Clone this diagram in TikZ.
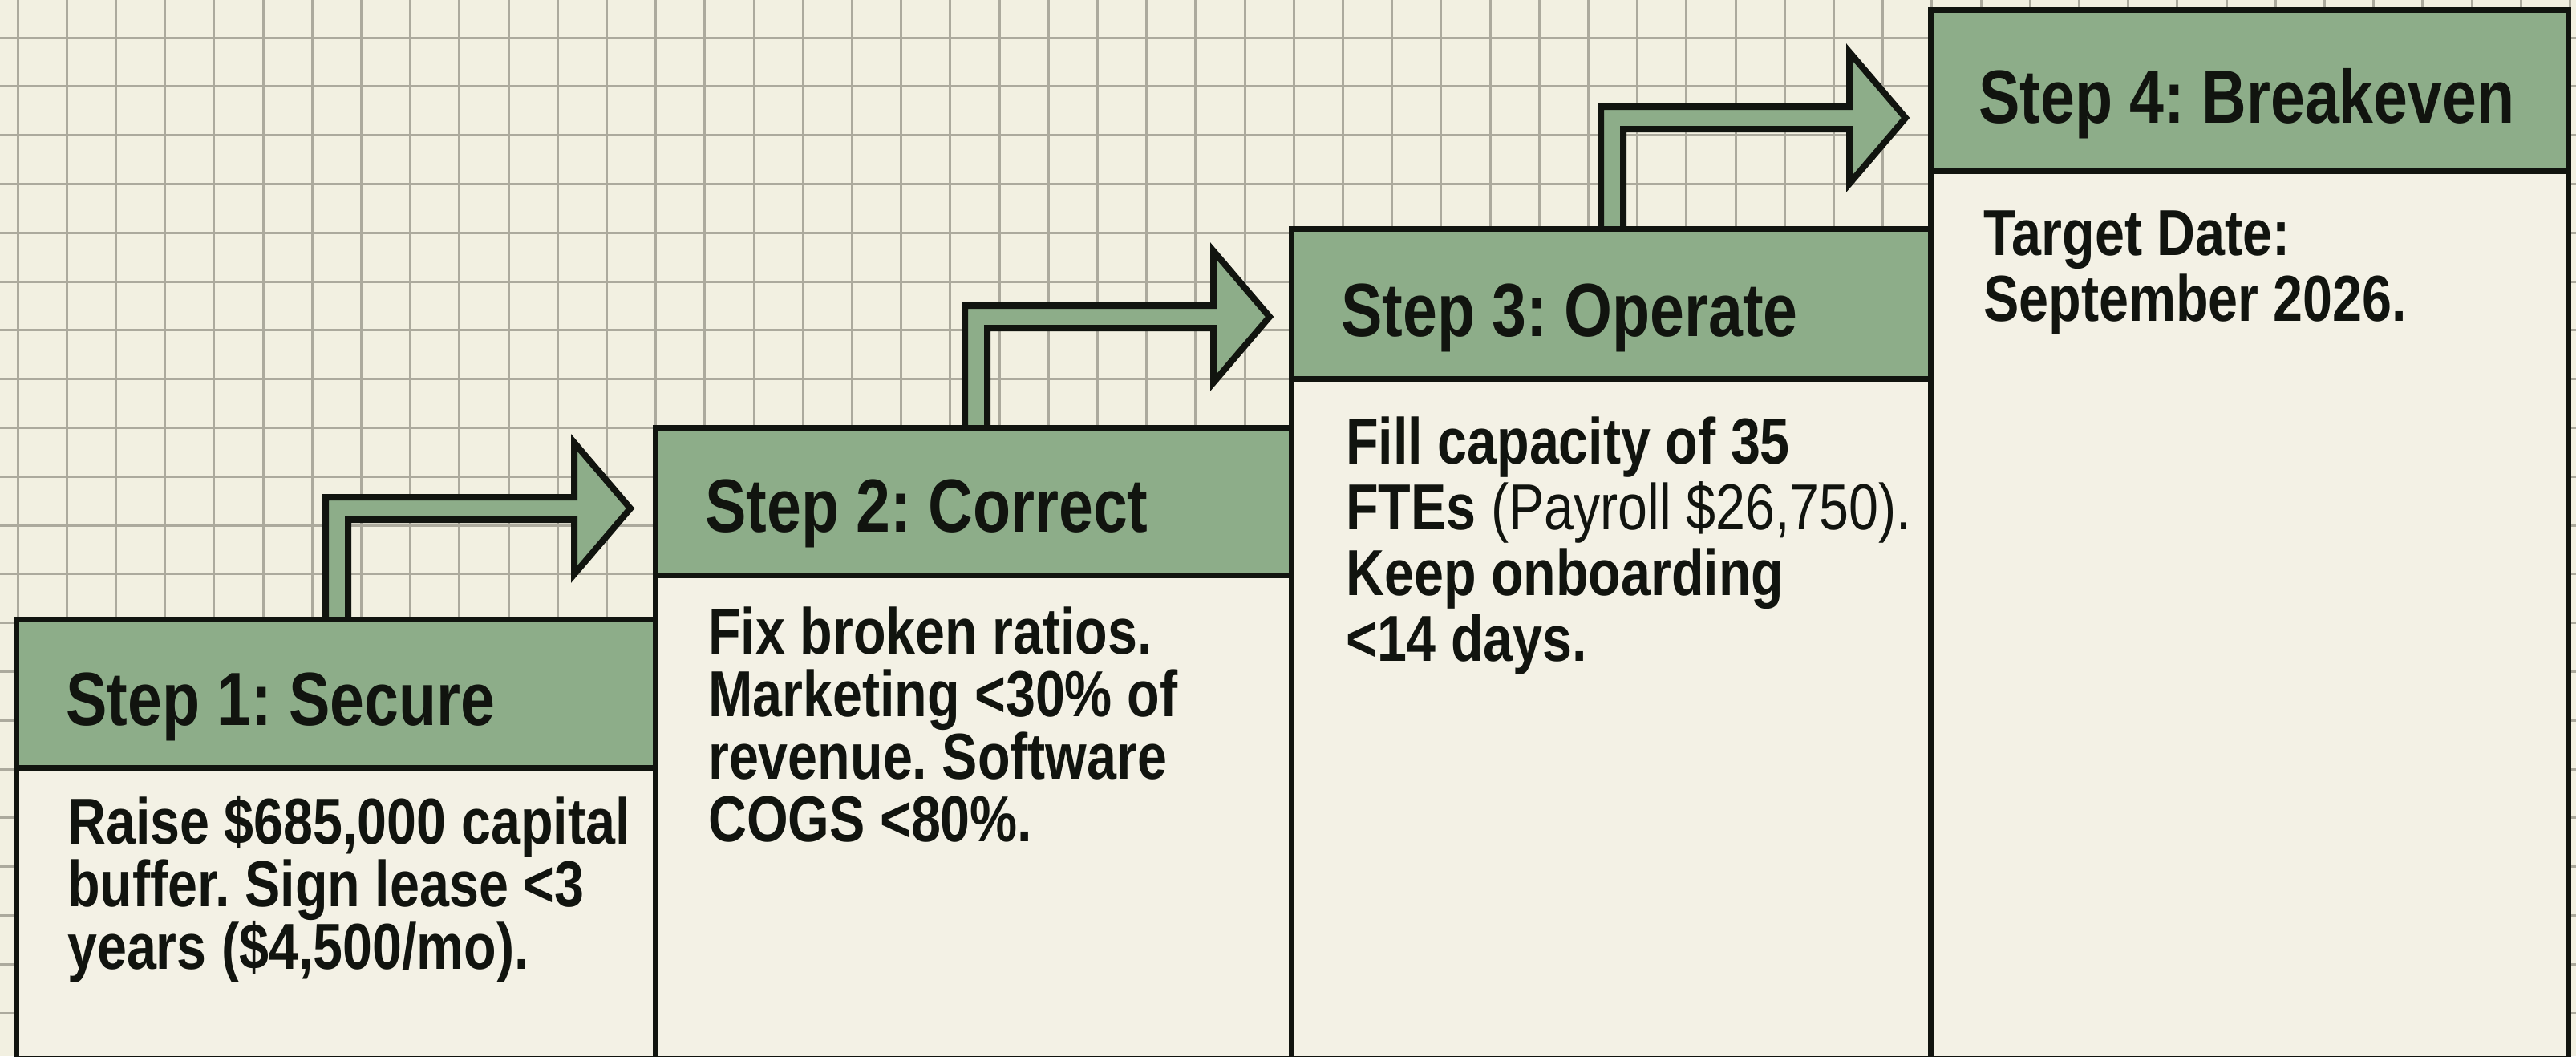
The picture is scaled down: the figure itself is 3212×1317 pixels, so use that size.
\documentclass[tikz,border=0pt]{standalone}
\usepackage{fontspec}
\setmainfont{Liberation Sans}[FakeStretch=0.82]
\usetikzlibrary{calc}
\definecolor{bgc}{RGB}{242,240,225}
\definecolor{gridc}{RGB}{172,170,157}
\definecolor{hdrc}{RGB}{141,173,137}
\definecolor{bodyc}{RGB}{243,241,229}
\definecolor{linec}{RGB}{17,20,15}
\pgfdeclarelayer{bglayer}
\pgfdeclarelayer{arrlayer}
\pgfsetlayers{bglayer,arrlayer,main}
\newcommand\headfnt{\fontsize{94}{100}\selectfont\bfseries}
\newcommand\bodyfnt{\fontsize{81}{81}\selectfont\bfseries}
\tikzset{
  hdr/.style={draw=linec, fill=hdrc, line width=7pt, anchor=north west, inner sep=0pt, outer sep=0pt},
  bodybox/.style={draw=linec, fill=bodyc, line width=7pt, anchor=north west, inner sep=0pt, outer sep=0pt},
  htext/.style={anchor=base west, inner sep=0pt, font=\headfnt, text=linec},
  btext/.style={anchor=base west, inner sep=0pt, font=\bodyfnt, text=linec},
  steparrow/.style={fill=hdrc, draw=linec, line width=8pt, line join=miter, miter limit=10},
  gridline/.style={draw=gridc, line width=3pt}
}
\begin{document}
\frenchspacing
\begin{tikzpicture}[x=1pt,y=-1pt]
\useasboundingbox (0,0) rectangle (3212,1317);
\begin{pgfonlayer}{bglayer}
  \fill[bgc] (0,0) rectangle (3212,1317);
  \foreach \i in {0,...,52} \draw[gridline] ({22+61.2*\i},0) -- ({22+61.2*\i},1317);
  \foreach \j in {0,...,21} \draw[gridline] (0,{47+60.8*\j}) -- (3212,{47+60.8*\j});
\end{pgfonlayer}

% bodies
\node[bodybox, minimum width=797pt, minimum height=363pt] (b1) at (20,957) {};
\node[bodybox, minimum width=793pt, minimum height=603pt] (b2) at (817,717) {};
\node[bodybox, minimum width=797pt, minimum height=848pt] (b3) at (1610,472) {};
\node[bodybox, minimum width=795pt, minimum height=1107pt] (b4) at (2407,213) {};
% headers
\node[hdr, minimum width=797pt, minimum height=185pt] (h1) at (20,772) {};
\node[hdr, minimum width=793pt, minimum height=184pt] (h2) at (817,533) {};
\node[hdr, minimum width=797pt, minimum height=187pt] (h3) at (1610,285) {};
\node[hdr, minimum width=795pt, minimum height=201pt] (h4) at (2407,12) {};

% arrows
\begin{pgfonlayer}{arrlayer}
\foreach \a in {h1,h2,h3}{
  \draw[steparrow] ($(\a.north west)+(386,0)$) -- ++(0,-152) -- ++(310,0) -- ++(0,-68)
     -- ++(70,82) -- ++(-70,82) -- ++(0,-68) -- ++(-282,0) -- ++(0,124);
}
\end{pgfonlayer}

% header texts
\node[htext] (t1) at ($(h1.north west)+(62,132)$) {Step 1: Secure};
\node[htext] (t2) at ($(h2.north west)+(62,130)$) {Step 2: Correct};
\node[htext] (t3) at ($(h3.north west)+(62,134)$) {Step 3: Operate};
\node[htext] (t4) at ($(h4.north west)+(60,141)$) {Step 4: Breakeven};

% body texts
\node[btext] (l11) at ($(b1.north west)+(64,95)$) {Raise \$685,000 capital};
\node[btext] (l12) at ($(b1.north west)+(64,173)$) {buffer. Sign lease <3};
\node[btext] (l13) at ($(b1.north west)+(64,251)$) {years (\$4,500/mo).};

\node[btext] (l21) at ($(b2.north west)+(66,98)$) {Fix broken ratios.};
\node[btext] (l22) at ($(b2.north west)+(66,176)$) {Marketing <30\% of};
\node[btext] (l23) at ($(b2.north west)+(66,254)$) {revenue. Software};
\node[btext] (l24) at ($(b2.north west)+(66,332)$) {COGS <80\%.};

\node[btext] (l31) at ($(b3.north west)+(68,106)$) {Fill capacity of 35};
\node[btext] (l32) at ($(b3.north west)+(68,188)$) {FTEs {\mdseries(Payroll \$26,750).}};
\node[btext] (l33) at ($(b3.north west)+(68,270)$) {Keep onboarding};
\node[btext] (l34) at ($(b3.north west)+(68,352)$) {<14 days.};

\node[btext] (l41) at ($(b4.north west)+(66,105)$) {Target Date:};
\node[btext] (l42) at ($(b4.north west)+(66,187)$) {September 2026.};
\end{tikzpicture}
\end{document}
